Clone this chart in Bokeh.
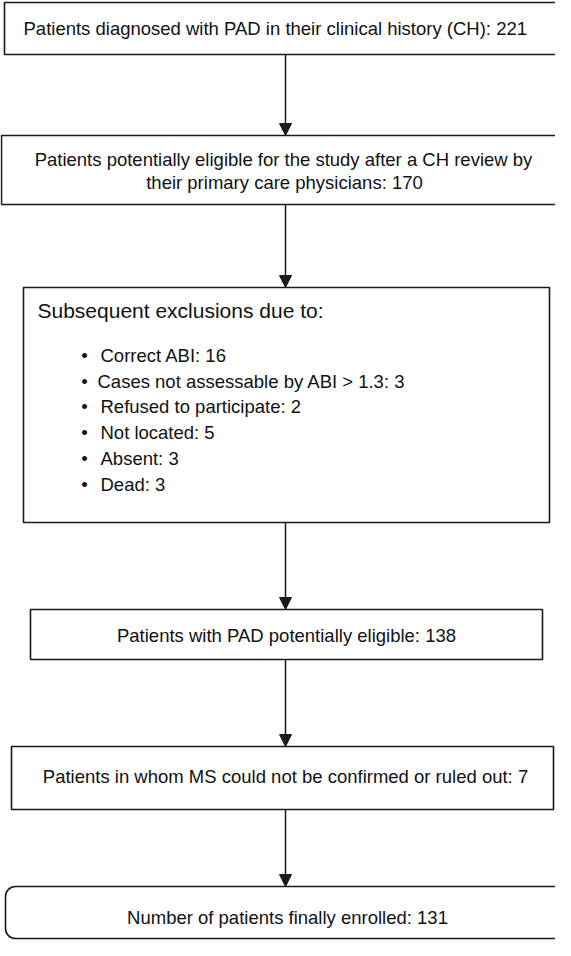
from bokeh.plotting import figure
from bokeh.models import Range1d, Arrow, NormalHead
from bokeh.core.properties import value
from bokeh.embed import file_html
from bokeh.resources import INLINE

# ---- data ----
stage_labels = [
    "Patients diagnosed with PAD in their clinical history (CH)",
    "Patients potentially eligible for the study after a CH review by their primary care physicians",
    "Patients with PAD potentially eligible",
    "Patients in whom MS could not be confirmed or ruled out",
    "Number of patients finally enrolled",
]
stage_counts = [221, 170, 138, 7, 131]
exclusion_title = "Subsequent exclusions due to:"
exclusion_reasons = ["Correct ABI", "Cases not assessable by ABI > 1.3", "Refused to participate",
                     "Not located", "Absent", "Dead"]
exclusion_counts = [16, 3, 2, 5, 3, 3]

# ---- layout (page pixel coordinates) ----
FONT = value("Liberation Sans")
FS = "18.5px"
INK = "#1a1a1a"
CX = 293

p = figure(width=555, height=940, x_range=Range1d(8, 563), y_range=Range1d(948, 8),
           output_backend="svg", toolbar_location=None, min_border=0)
p.axis.visible = False
p.grid.visible = False
p.outline_line_color = None
p.background_fill_color = "white"
p.border_fill_color = "white"

# boxes: left, right, top, bottom
boxes = [
    (12, 590, 10, 62),
    (9, 590, 143, 212),
    (31, 557, 295, 530),
    (38, 550, 617, 667),
    (19, 561, 754, 817),
]
p.quad(left=[b[0] for b in boxes], right=[b[1] for b in boxes],
       top=[b[2] for b in boxes], bottom=[b[3] for b in boxes],
       fill_color="white", line_color=INK, line_width=1.6)
# final rounded box
p.quad(left=[13], right=[590], top=[894], bottom=[946], fill_color="white",
       line_color=INK, line_width=1.6, border_radius=10)

# arrows between stages
arrow_spans = [(62, 143), (212, 295), (530, 617), (667, 754), (817, 894)]
for y0, y1 in arrow_spans:
    p.add_layout(Arrow(end=NormalHead(size=12, fill_color=INK, line_color=INK, line_width=1),
                       x_start=CX, y_start=y0, x_end=CX, y_end=y1,
                       line_color=INK, line_width=1.5))

def txt(x, y, s, align="center", size=FS):
    p.text(x=[x], y=[y], text=[s], text_font=FONT, text_font_size=size,
           text_align=align, text_baseline="middle", text_color="#111111")

# stage texts
txt(31, 36, f"{stage_labels[0]}: {stage_counts[0]}", align="left")
words = stage_labels[1].split(" ")
txt(291, 167, " ".join(words[:-4]))
txt(292, 190, " ".join(words[-4:]) + f": {stage_counts[1]}")
txt(294, 643, f"{stage_labels[2]}: {stage_counts[2]}")
txt(293, 784, f"{stage_labels[3]}: {stage_counts[3]}")
txt(295, 925, f"{stage_labels[4]}: {stage_counts[4]}")

# exclusions box
txt(45, 318, exclusion_title, align="left", size="21px")
bullet_y = [363, 389, 414, 440, 466, 492]
text_x = [108, 105, 108, 108, 108, 108]
for yy, xx, r, c in zip(bullet_y, text_x, exclusion_reasons, exclusion_counts):
    txt(92, yy, "\u2022", size=FS)
    txt(xx, yy, f"{r}: {c}", align="left")

open("out.html", "w").write(file_html(p, INLINE))
